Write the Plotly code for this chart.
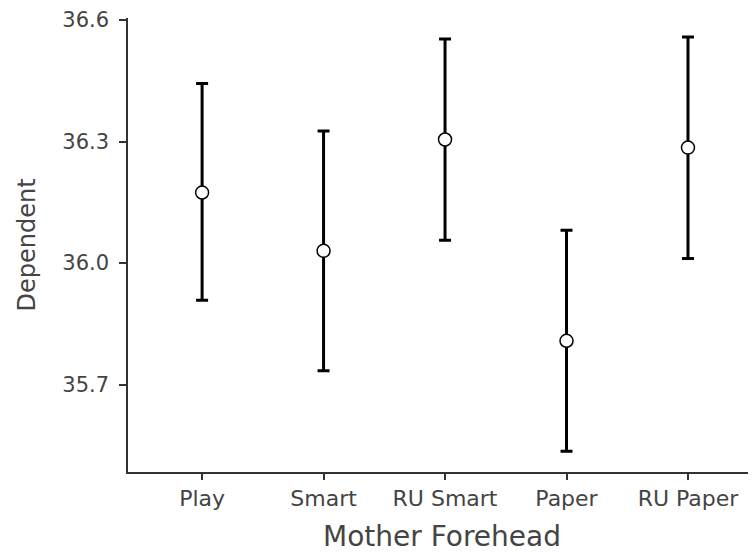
import plotly.graph_objects as go

categories = ["Play", "Smart", "RU Smart", "Paper", "RU Paper"]
means = [36.174, 36.030, 36.305, 35.808, 36.285]
upper = [36.443, 36.326, 36.553, 36.081, 36.558]
lower = [35.908, 35.734, 36.056, 35.535, 36.011]
y_ticks = [35.7, 36.0, 36.3, 36.6]

err_plus = [u - m for u, m in zip(upper, means)]
err_minus = [m - l for m, l in zip(means, lower)]

FONT = "DejaVu Sans"

fig = go.Figure()
fig.add_trace(go.Scatter(
    x=categories, y=means, mode="markers",
    marker=dict(symbol="circle", size=13, color="white",
                line=dict(color="black", width=1.5)),
    error_y=dict(type="data", symmetric=False, array=err_plus,
                 arrayminus=err_minus, color="black", thickness=3, width=6),
    showlegend=False,
))

# page body has an 8px margin, so the figure is sized/offset to compensate
fig.update_layout(
    width=748, height=545,
    margin=dict(l=120, r=0, t=5, b=81),
    paper_bgcolor="white", plot_bgcolor="white",
    font=dict(family=FONT, color="#444"),
    xaxis=dict(
        type="category", range=[-0.61, 4.56],
        showline=True, linecolor="#333", linewidth=1.5,
        ticks="outside", ticklen=6, tickcolor="#333", tickwidth=1.5,
        tickfont=dict(size=22, color="#444"),
        ticklabelstandoff=0,
        showgrid=False, zeroline=False,
        title=dict(text="Mother Forehead", font=dict(size=28, color="#444"), standoff=18),
    ),
    yaxis=dict(
        range=[35.484, 36.605],
        tickvals=y_ticks, ticktext=[f"{v:.1f}" for v in y_ticks],
        showline=True, linecolor="#333", linewidth=1.5,
        ticks="outside", ticklen=7, tickcolor="#333", tickwidth=1.5,
        tickfont=dict(size=21, color="#444"),
        ticklabelstandoff=6,
        ticklabeloverflow="allow",
        showgrid=False, zeroline=False,
        title=dict(text="Dependent", font=dict(size=24, color="#444"), standoff=20),
    ),
)

fig.write_html("out.html")
